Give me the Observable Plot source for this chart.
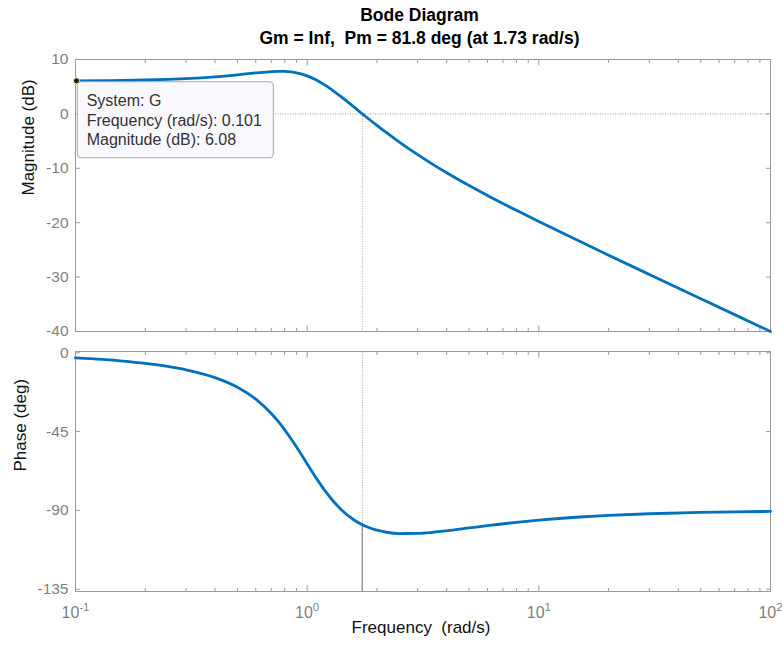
<!DOCTYPE html>
<html>
<head>
<meta charset="utf-8">
<script src="https://cdn.jsdelivr.net/npm/d3@7"></script>
<script src="https://cdn.jsdelivr.net/npm/@observablehq/plot@0.6"></script>
<style>
  body { margin: 0; background: #fff; }
  #wrap { position: relative; width: 782px; height: 645px; font-family: "Liberation Sans", Arial, sans-serif; }
  #title { position: absolute; left: 72px; width: 695px; top: 0; padding-top: 4.3px; text-align: center;
           font-weight: bold; font-size: 17.5px; line-height: 22.6px; color: #000; white-space: pre; z-index: 2; }
  #top, #bot { position: absolute; left: 0; }
  #top { top: 0; }
  #bot { top: 340px; }
</style>
</head>
<body>
<div id="wrap">
  <div id="top"></div>
  <div id="bot"></div>
  <div id="title"></div>
</div>
<script>
// ---- data ----
const titleLines = ["Bode Diagram", "Gm = Inf,  Pm = 81.8 deg (at 1.73 rad/s)"];
const sysName = "G";
const freq  = [0.1, 0.13, 0.16, 0.2, 0.25, 0.3, 0.4, 0.5, 0.6, 0.7, 0.75, 0.8, 0.85, 0.9, 1.0, 1.1, 1.2, 1.3, 1.4, 1.6, 1.73, 1.8, 2, 2.2, 2.5, 3, 3.5, 4, 5, 6, 8, 10, 15, 20, 30, 50, 70, 100];
const magDb = [6.08, 6.11, 6.16, 6.23, 6.35, 6.49, 6.82, 7.19, 7.53, 7.77, 7.82, 7.80, 7.71, 7.55, 6.99, 6.19, 5.23, 4.19, 3.16, 1.19, 0.0, -0.57, -2.11, -3.46, -5.18, -7.49, -9.32, -10.81, -13.17, -14.99, -17.73, -19.79, -23.43, -25.97, -29.52, -33.97, -36.90, -40.00];
const phaseDeg = [-2.91, -3.81, -4.75, -6.06, -7.81, -9.72, -14.15, -19.65, -26.45, -34.63, -39.19, -43.97, -48.90, -53.85, -63.43, -72.00, -79.17, -84.93, -89.45, -95.62, -98.19, -99.23, -101.31, -102.47, -103.20, -103.13, -102.46, -101.63, -100.03, -98.71, -96.80, -95.54, -93.76, -92.84, -91.90, -91.14, -90.82, -90.57];
const pmFreq = 1.73;      // crossover frequency (rad/s)
const pm = 81.8;          // phase margin (deg)
const tipFreq = 0.101;    // data tip
const tipMag = 6.08;
const majorTicks = [0.1, 1, 10, 100];
const minorTicks = [0.2, 0.3, 0.4, 0.5, 0.6, 0.7, 0.8, 0.9, 2, 3, 4, 5, 6, 7, 8, 9, 20, 30, 40, 50, 60, 70, 80, 90];
const magTicks = [10, 0, -10, -20, -30, -40];
const phaseTicks = [0, -45, -90, -135];
const xLabel = "Frequency  (rad/s)";
const magLabel = "Magnitude (dB)";
const phaseLabel = "Phase (deg)";

const rows = freq.map((w, i) => ({w, mag: magDb[i], phase: phaseDeg[i]}));

// ---- styles ----
const frameColor = "#9a9a9a";
const tickTextColor = "#7f7f7f";
const dotColor = "#9c9c9c";
const lineColor = "#0072BD";
const font = "Liberation Sans, Arial, sans-serif";

document.getElementById("title").textContent = titleLines.join("\n");

function frameAxes(yTicks) {
  const s = {stroke: frameColor, fill: "none", label: null};
  return [
    Plot.frame({stroke: frameColor}),
    Plot.axisX({...s, anchor: "bottom", ticks: majorTicks, tickSize: -5.5}),
    Plot.axisX({...s, anchor: "bottom", ticks: minorTicks, tickSize: -3}),
    Plot.axisX({...s, anchor: "top", ticks: majorTicks, tickSize: -5.5}),
    Plot.axisX({...s, anchor: "top", ticks: minorTicks, tickSize: -3}),
    Plot.axisY({...s, anchor: "left", ticks: yTicks, tickSize: -5}),
    Plot.axisY({...s, anchor: "right", ticks: yTicks, tickSize: -5}),
    Plot.axisY({anchor: "left", ticks: yTicks, tickSize: 0, tickPadding: 7, fill: tickTextColor,
                fontSize: 15.5, label: null, tickFormat: d => String(d)})
  ];
}

function dataTip(index, scales) {
  const px = scales.x(tipFreq), py = scales.y(tipMag);
  const g = d3.create("svg:g");
  g.append("rect").attr("x", px + 1.3).attr("y", py + 1.4).attr("width", 196).attr("height", 76)
    .attr("rx", 3.5).attr("fill", "#f8f8fd").attr("stroke", "#a8a8a8").attr("stroke-width", 1);
  const lines = [`System: ${sysName}`, `Frequency (rad/s): ${tipFreq}`, `Magnitude (dB): ${tipMag}`];
  lines.forEach((s, i) => g.append("text").attr("x", px + 10.7).attr("y", py + 25.7 + i * 19.5)
    .attr("font-size", 16).attr("fill", "#333").attr("text-anchor", "start")
    .attr("font-family", font).text(s));
  return g.node();
}

const topPlot = Plot.plot({
  width: 782, height: 340,
  marginLeft: 75, marginRight: 12, marginTop: 59, marginBottom: 9,
  style: {fontFamily: font, fontSize: "15px", background: "none", overflow: "visible"},
  x: {type: "log", domain: [0.1, 100], label: null},
  y: {domain: [-40, 10], label: null},
  marks: [
    ...frameAxes(magTicks),
    Plot.ruleY([0], {stroke: dotColor, strokeDasharray: "1,1.5"}),
    Plot.ruleX([pmFreq], {y1: 0, y2: -40, stroke: dotColor, strokeDasharray: "1,1.5"}),
    Plot.line(rows, {x: "w", y: "mag", stroke: lineColor, strokeWidth: 2.8, curve: "monotone-x"}),
    dataTip,
    Plot.dot([{w: tipFreq, m: tipMag}], {x: "w", y: "m", r: 3, fill: "#1a1a1a", stroke: "#f3e7a6", strokeWidth: 1}),
    Plot.text([magLabel], {text: d => d, frameAnchor: "left", rotate: -90, dx: -47, fontSize: 17, fill: "#111"})
  ]
});
document.getElementById("top").appendChild(topPlot);

const botPlot = Plot.plot({
  width: 782, height: 305,
  marginLeft: 75, marginRight: 12, marginTop: 11, marginBottom: 54,
  style: {fontFamily: font, fontSize: "15px", background: "none", overflow: "visible"},
  x: {type: "log", domain: [0.1, 100], label: null},
  y: {domain: [-136.3, 0.74], label: null},
  marks: [
    ...frameAxes(phaseTicks),
    Plot.axisX({anchor: "bottom", ticks: majorTicks, tickSize: 0, tickPadding: 15.6, fill: tickTextColor,
                fontSize: 16, label: null, tickFormat: d => `10^${Math.round(Math.log10(d))}`}),
    Plot.ruleX([pmFreq], {y1: 0, y2: -180 + pm, stroke: dotColor, strokeDasharray: "1,1.5"}),
    Plot.ruleX([pmFreq], {y1: -180, y2: -180 + pm, stroke: "#8a8a8a", strokeWidth: 1.3, clip: true}),
    Plot.line(rows, {x: "w", y: "phase", stroke: lineColor, strokeWidth: 2.8, curve: "monotone-x"}),
    Plot.text([phaseLabel], {text: d => d, frameAnchor: "left", rotate: -90, dx: -55.4, fontSize: 17, fill: "#111"}),
    Plot.text([xLabel], {text: d => d, frameAnchor: "bottom", dx: -2, dy: 41.6, fontSize: 17, fill: "#111"})
  ]
});
document.getElementById("bot").appendChild(botPlot);

// render exponents as superscripts
botPlot.querySelectorAll("text").forEach(t => {
  const s = t.textContent;
  if (s.includes("^")) {
    const [b, e] = s.split("^");
    t.textContent = "";
    const t1 = document.createElementNS("http://www.w3.org/2000/svg", "tspan");
    t1.textContent = b;
    const t2 = document.createElementNS("http://www.w3.org/2000/svg", "tspan");
    t2.setAttribute("dy", "-7");
    t2.setAttribute("font-size", "11.5");
    t2.textContent = e;
    t.appendChild(t1); t.appendChild(t2);
  }
});
</script>
</body>
</html>
